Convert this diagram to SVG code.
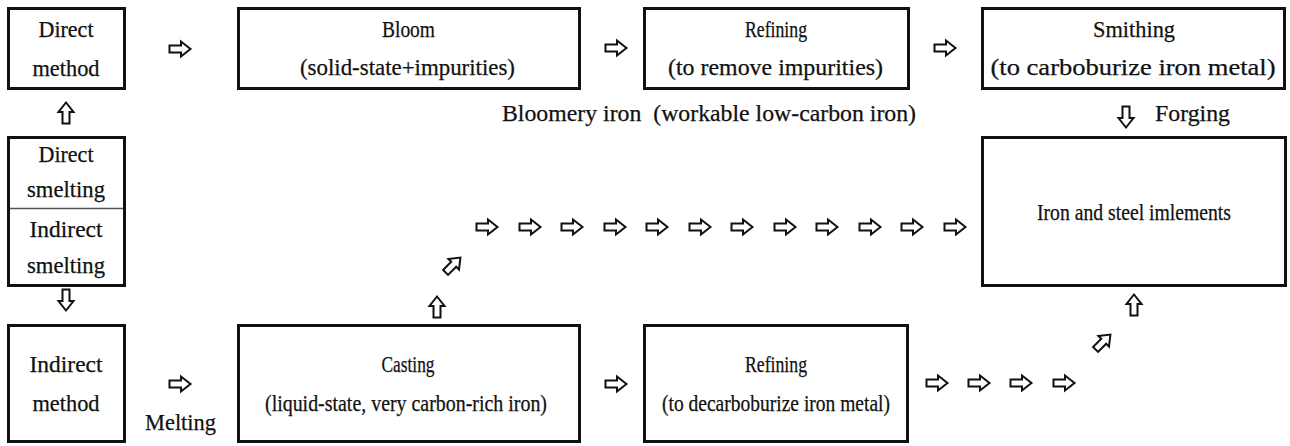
<svg xmlns="http://www.w3.org/2000/svg" xmlns:xlink="http://www.w3.org/1999/xlink" width="1290" height="446" viewBox="0 0 1290 446">
<style>
.box{fill:#fff;stroke:#111;stroke-width:3}
.div{stroke:#555;stroke-width:1.5}
text{font-family:"Liberation Serif","DejaVu Serif",serif;font-size:23px;fill:#111;stroke:#111;stroke-width:0.25}
.c{text-anchor:middle}
.ar{fill:#fff;stroke:#111;stroke-width:2;stroke-linejoin:miter}
</style>
<defs>
<path id="arr" class="ar" d="M-10.5,-3.5 H1 V-7.5 L10.5,0 L1,7.5 V3.5 H-10.5 Z"/>
</defs>
<rect width="1290" height="446" fill="#fff"/>

<g id="direct-method">
<rect class="box" x="8.5" y="8.5" width="116" height="80"/>
<text class="c" x="66" y="37" textLength="55" lengthAdjust="spacingAndGlyphs">Direct</text>
<text class="c" x="66" y="76" textLength="67" lengthAdjust="spacingAndGlyphs">method</text>
</g>

<g id="bloom">
<rect class="box" x="238.5" y="8.5" width="341" height="80"/>
<text class="c" x="408.5" y="37" textLength="53" lengthAdjust="spacingAndGlyphs">Bloom</text>
<text class="c" x="407.5" y="75" textLength="215" lengthAdjust="spacingAndGlyphs">(solid-state+impurities)</text>
</g>

<g id="refining-top">
<rect class="box" x="644.5" y="8.5" width="264" height="80"/>
<text class="c" x="776" y="37" textLength="62" lengthAdjust="spacingAndGlyphs">Refining</text>
<text class="c" x="775.5" y="75" textLength="215" lengthAdjust="spacingAndGlyphs">(to remove impurities)</text>
</g>

<g id="smithing">
<rect class="box" x="982.5" y="8.5" width="302" height="80"/>
<text class="c" x="1134" y="37" textLength="82" lengthAdjust="spacingAndGlyphs">Smithing</text>
<text class="c" x="1133" y="75" textLength="285" lengthAdjust="spacingAndGlyphs">(to carboburize iron metal)</text>
</g>

<g id="smelting">
<rect class="box" x="8.5" y="137.5" width="116" height="148"/>
<line class="div" x1="10" y1="208.5" x2="123" y2="208.5"/>
<text class="c" x="66" y="162" textLength="55" lengthAdjust="spacingAndGlyphs">Direct</text>
<text class="c" x="66" y="197" textLength="78" lengthAdjust="spacingAndGlyphs">smelting</text>
<text class="c" x="66" y="237" textLength="73" lengthAdjust="spacingAndGlyphs">Indirect</text>
<text class="c" x="66" y="273" textLength="78" lengthAdjust="spacingAndGlyphs">smelting</text>
</g>

<g id="iron-steel">
<rect class="box" x="982.5" y="137.5" width="303" height="148"/>
<text class="c" x="1134" y="220" textLength="194" lengthAdjust="spacingAndGlyphs">Iron and steel imlements</text>
</g>

<g id="indirect-method">
<rect class="box" x="8.5" y="325.5" width="116" height="116"/>
<text class="c" x="66" y="372" textLength="73" lengthAdjust="spacingAndGlyphs">Indirect</text>
<text class="c" x="66" y="411" textLength="67" lengthAdjust="spacingAndGlyphs">method</text>
</g>

<g id="casting">
<rect class="box" x="238.5" y="325.5" width="341" height="116"/>
<text class="c" x="408" y="372" textLength="53" lengthAdjust="spacingAndGlyphs">Casting</text>
<text class="c" x="406" y="411" textLength="282" lengthAdjust="spacingAndGlyphs">(liquid-state, very carbon-rich iron)</text>
</g>

<g id="refining-bottom">
<rect class="box" x="644.5" y="325.5" width="263" height="116"/>
<text class="c" x="776" y="372" textLength="62" lengthAdjust="spacingAndGlyphs">Refining</text>
<text class="c" x="776" y="411" textLength="228" lengthAdjust="spacingAndGlyphs">(to decarboburize iron metal)</text>
</g>

<g id="labels">
<text x="502" y="121" textLength="414" lengthAdjust="spacingAndGlyphs" style="white-space:pre">Bloomery iron  (workable low-carbon iron)</text>
<text x="1155" y="121" textLength="75" lengthAdjust="spacingAndGlyphs">Forging</text>
<text x="145" y="430" textLength="71" lengthAdjust="spacingAndGlyphs">Melting</text>
</g>

<g id="connectors">
<use xlink:href="#arr" transform="translate(180,49)"/>
<use xlink:href="#arr" transform="translate(616,48)"/>
<use xlink:href="#arr" transform="translate(945,48)"/>
<use xlink:href="#arr" transform="translate(66,113) rotate(-90)"/>
<use xlink:href="#arr" transform="translate(66,300) rotate(90)"/>
<use xlink:href="#arr" transform="translate(1126,117) rotate(90)"/>
<use xlink:href="#arr" transform="translate(180,384)"/>
<use xlink:href="#arr" transform="translate(616,384)"/>
<use xlink:href="#arr" transform="translate(437,307) rotate(-90)"/>
<use xlink:href="#arr" transform="translate(453,265) rotate(-45)"/>
<use xlink:href="#arr" transform="translate(487,227)"/>
<use xlink:href="#arr" transform="translate(530,227)"/>
<use xlink:href="#arr" transform="translate(572,227)"/>
<use xlink:href="#arr" transform="translate(615,227)"/>
<use xlink:href="#arr" transform="translate(657,227)"/>
<use xlink:href="#arr" transform="translate(700,227)"/>
<use xlink:href="#arr" transform="translate(742,227)"/>
<use xlink:href="#arr" transform="translate(785,227)"/>
<use xlink:href="#arr" transform="translate(827,227)"/>
<use xlink:href="#arr" transform="translate(870,227)"/>
<use xlink:href="#arr" transform="translate(912,227)"/>
<use xlink:href="#arr" transform="translate(955,227)"/>
<use xlink:href="#arr" transform="translate(937,383)"/>
<use xlink:href="#arr" transform="translate(979,383)"/>
<use xlink:href="#arr" transform="translate(1021,383)"/>
<use xlink:href="#arr" transform="translate(1064,383)"/>
<use xlink:href="#arr" transform="translate(1103,342) rotate(-45)"/>
<use xlink:href="#arr" transform="translate(1134,305) rotate(-90)"/>
</g>
</svg>
